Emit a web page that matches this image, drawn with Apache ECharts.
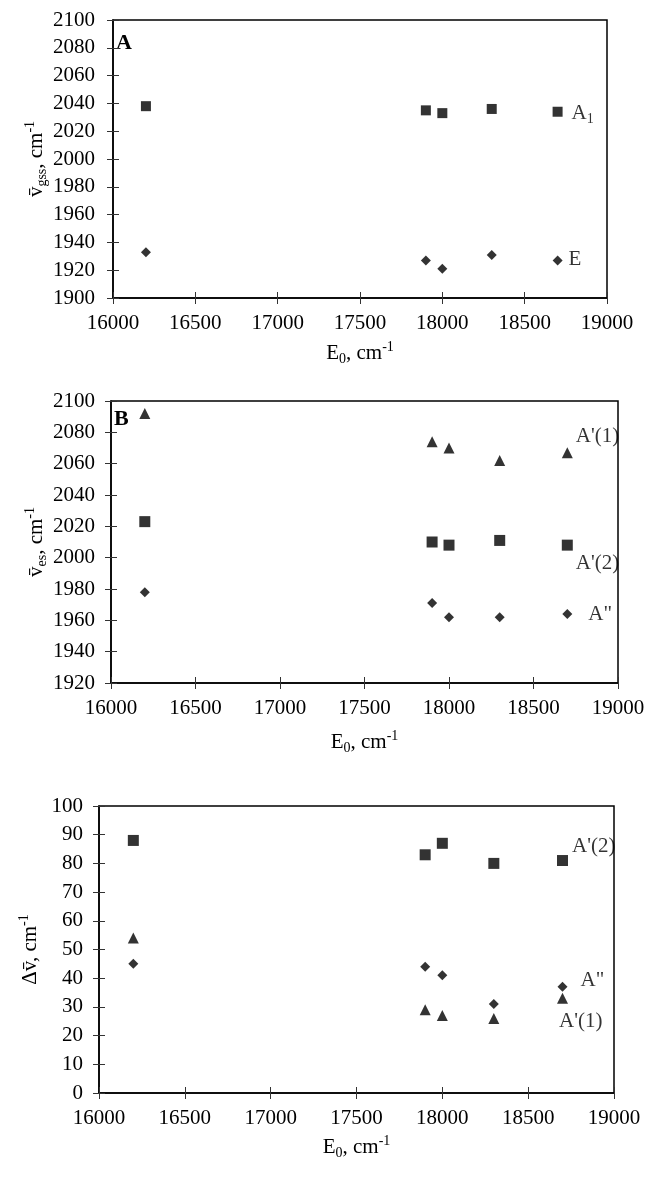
<!DOCTYPE html>
<html>
<head>
<meta charset="utf-8">
<script src="https://cdn.jsdelivr.net/npm/echarts@6/dist/echarts.min.js"></script>
<style>
  html, body { margin: 0; padding: 0; background: #fff; }
  #chart { width: 648px; height: 1180px; }
</style>
</head>
<body>
<div id="chart"></div>
<script>
// E0 values (cm-1), shared by all three panels
const e0 = [16200, 17900, 18000, 18300, 18700];

// panel A: ground state
const gsA1 = [2038, 2035, 2033, 2036, 2034];
const gsE = [1933, 1927, 1921, 1931, 1927];

// panel B: excited state
const esA1 = [2092, 2074, 2070, 2062, 2067];   // A'(1)
const esA2 = [2023, 2010, 2008, 2011, 2008];   // A'(2)
const esApp = [1978, 1971, 1962, 1962, 1964];  // A''

// panel C: difference
const dA2 = [88, 83, 87, 80, 81];   // A'(2)
const dApp = [45, 44, 41, 31, 37];  // A''
const dA1 = [54, 29, 27, 26, 33];   // A'(1)

// axis ranges
const xRange = { min: 16000, max: 19000, interval: 500 };
const yRangeA = { min: 1900, max: 2100, interval: 20 };
const yRangeB = { min: 1920, max: 2100, interval: 20 };
const yRangeC = { min: 0, max: 100, interval: 10 };

const FONT = 'Liberation Serif, Times New Roman, serif';

const rich = {
  n: { fontFamily: FONT, fontSize: 21, color: '#000', lineHeight: 26 },
  sub: { fontFamily: FONT, fontSize: 14, color: '#000', lineHeight: 12, verticalAlign: 'bottom' },
  sup: { fontFamily: FONT, fontSize: 14, color: '#000', lineHeight: 14, verticalAlign: 'top' }
};

const grids = [
  { left: 113, top: 20, width: 494, height: 278 },
  { left: 111, top: 401, width: 507, height: 282 },
  { left: 99, top: 806, width: 515, height: 287 }
];

const plain = v => String(v);  // no thousands separator

function mainX(gi, gap) {
  return {
    type: 'value', gridIndex: gi, position: 'bottom',
    min: xRange.min, max: xRange.max, interval: xRange.interval,
    name: '{n|E}{sub|0}{n|, cm}{sup|-1}',
    nameLocation: 'middle', nameGap: gap, nameMoveOverlap: false,
    nameTextStyle: { rich: rich },
    axisLine: { onZero: false, lineStyle: { color: '#000', width: 1.5 } },
    axisTick: { length: 6, lineStyle: { color: '#333' } },
    axisLabel: { margin: 15, fontFamily: FONT, fontSize: 21, color: '#000', formatter: plain },
    splitLine: { show: false }
  };
}

function innerX(gi) {
  return {
    type: 'value', gridIndex: gi, position: 'bottom',
    min: xRange.min, max: xRange.max, interval: xRange.interval,
    axisLine: { show: false, onZero: false },
    axisTick: { show: true, inside: true, length: 6, lineStyle: { color: '#333' } },
    axisLabel: { show: false },
    splitLine: { show: false }
  };
}

function mainY(gi, r, name, gap, margin) {
  return {
    type: 'value', gridIndex: gi, position: 'left',
    min: r.min, max: r.max, interval: r.interval,
    name: name, nameLocation: 'middle', nameGap: gap, nameMoveOverlap: false,
    nameTextStyle: { rich: rich },
    axisLine: { onZero: false, lineStyle: { color: '#000', width: 1.5 } },
    axisTick: { length: 6, lineStyle: { color: '#333' } },
    axisLabel: { margin: margin, fontFamily: FONT, fontSize: 21, color: '#000', formatter: plain },
    splitLine: { show: false }
  };
}

function innerY(gi, r) {
  return {
    type: 'value', gridIndex: gi, position: 'left',
    min: r.min, max: r.max, interval: r.interval,
    axisLine: { show: false, onZero: false },
    axisTick: { show: true, inside: true, length: 6, lineStyle: { color: '#333' } },
    axisLabel: { show: false },
    splitLine: { show: false }
  };
}

// build points; the last point carries the series tag
function points(ys, tag, offset) {
  return e0.map((x, i) => {
    if (i < e0.length - 1) return [x, ys[i]];
    return {
      value: [x, ys[i]],
      label: {
        show: true, position: 'right', distance: 0, offset: offset,
        formatter: tag, rich: rich
      }
    };
  });
}

function scatter(gi, ys, symbol, size, tag, offset) {
  return {
    type: 'scatter', xAxisIndex: gi * 2, yAxisIndex: gi * 2,
    symbol: symbol, symbolSize: size,
    itemStyle: { color: '#000' },
    data: points(ys, tag, offset),
    silent: true
  };
}

// empty series so the tick-only overlay axes get drawn
function tickHolder(gi) {
  return { type: 'scatter', xAxisIndex: gi * 2 + 1, yAxisIndex: gi * 2 + 1, data: [], silent: true };
}

const chart = echarts.init(document.getElementById('chart'));
chart.setOption({
  animation: false,
  backgroundColor: '#fff',
  grid: grids.map(g => Object.assign({ show: true, borderColor: '#000', borderWidth: 1.5, backgroundColor: 'transparent' }, g)),
  xAxis: [mainX(0, 42), innerX(0), mainX(1, 46), innerX(1), mainX(2, 41), innerX(2)],
  yAxis: [
    mainY(0, yRangeA, '{n|v̄}{sub|gss}{n|, cm}{sup|-1}', 64, 18), innerY(0, yRangeA),
    mainY(1, yRangeB, '{n|v̄}{sub|es}{n|, cm}{sup|-1}', 62, 16), innerY(1, yRangeB),
    mainY(2, yRangeC, '{n|Δv̄, cm}{sup|-1}', 56, 16), innerY(2, yRangeC)
  ],
  graphic: [
    { type: 'text', left: 116, top: 32, style: { text: 'A', font: 'bold 22px ' + FONT, fill: '#000' } },
    { type: 'text', left: 114, top: 408, style: { text: 'B', font: 'bold 22px ' + FONT, fill: '#000' } }
  ],
  series: [
    scatter(0, gsA1, 'rect', 10, '{n|A}{sub|1}', [9, 2]),
    scatter(0, gsE, 'diamond', 10, '{n|E}', [6, -1]),
    scatter(1, esA1, 'triangle', 11, "{n|A'(1)}", [3, -16]),
    scatter(1, esA2, 'rect', 11, "{n|A'(2)}", [3, 18]),
    scatter(1, esApp, 'diamond', 10, '{n|A"}', [16, 0]),
    scatter(2, dA2, 'rect', 11, "{n|A'(2)}", [4, -14]),
    scatter(2, dApp, 'diamond', 10, '{n|A"}', [13, -6]),
    scatter(2, dA1, 'triangle', 11, "{n|A'(1)}", [-9, 23]),
    tickHolder(0), tickHolder(1), tickHolder(2)
  ]
});
</script>
</body>
</html>
